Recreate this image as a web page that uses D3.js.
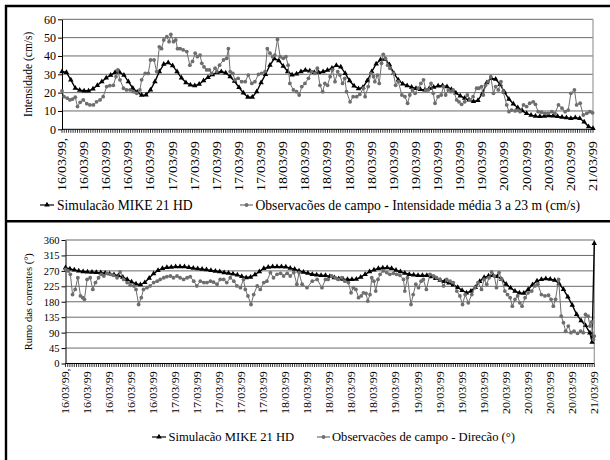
<!DOCTYPE html>
<html><head><meta charset="utf-8">
<script src="https://cdn.jsdelivr.net/npm/d3@7"></script>
<style>
body{margin:0;background:#fff}
svg{display:block}
text{font-family:"Liberation Serif","Times New Roman",serif;fill:#000}
</style>
</head><body>
<svg id="c" width="610" height="460"></svg>
<script>
// ---------- DATA ----------
const dateLabels = ["16/03/99,","16/03/99","16/03/99","16/03/99","16/03/99",
  "17/03/99","17/03/99","17/03/99","17/03/99","17/03/99",
  "18/03/99","18/03/99","18/03/99","18/03/99","18/03/99",
  "19/03/99","19/03/99","19/03/99","19/03/99","19/03/99",
  "20/03/99","20/03/99","20/03/99","20/03/99","21/03/99"];
const labelHours = [0,5,10,15,20,25,30,35,40,45,50,55,60,65,70,75,80,85,90,95,100,105,110,115,120];

// hours since 16/03/99 00:00 (hourly model output)
const modelHours = [0,1,2,3,4,5,6,7,8,9,10,11,12,13,14,15,16,17,18,19,20,21,22,23,24,25,26,27,28,29,
  30,31,32,33,34,35,36,37,38,39,40,41,42,43,44,45,46,47,48,49,50,51,52,53,54,55,56,57,58,59,
  60,61,62,63,64,65,66,67,68,69,70,71,72,73,74,75,76,77,78,79,80,81,82,83,84,85,86,87,88,89,
  90,91,92,93,94,95,96,97,98,99,100,101,102,103,104,105,106,107,108,109,110,111,112,113,114,115,116,117,118,119,120];

const modelSpeed = [31.5,31,27,22.5,21.3,21,21,22,24,26,
  28,29.5,31,31.2,29.5,26,22.4,20.3,18.6,18.8,
  21.5,26,31.5,35.5,36.3,34.7,31.5,28,25.5,24.2,
  23.8,24.6,26.5,28.3,29.8,31,31.5,30.8,28.7,26.2,
  22.8,19.8,17.5,17.5,20.5,25.5,30,35,38.5,37.5,
  34.5,31.5,29.7,30.2,31.5,32.3,31.8,31,31,31.4,
  32.2,33.4,34.8,34,30.5,26.5,23.7,22.2,22.8,26.5,
  31.5,35.7,38,38.3,35.3,30.5,27,24.7,23.8,23,
  22.3,21.8,21.5,22.3,23,23.6,23.8,23.2,21.8,19.8,
  18.2,17,16,15.2,15.8,19.5,25.5,27.8,27.3,24.5,
  20.3,16.5,13.8,11.8,10.2,8.6,7.7,7.2,7,7.2,
  7.5,7.3,7,6.6,6.3,6,6.3,6,4,1.5,
  0.5];

const obsSpeedHours = [0,0.45,1.2,1.8,2.4,3.0,3.5,4.1,4.8,5.6,6.3,7.1,7.8,8.6,9.3,10.1,10.8,11.6,12.2,12.6,
  13.1,13.9,14.6,15.4,16.1,16.9,17.6,18,18.8,19.5,20,20.8,21.4,22,22.5,23,23.7,24.2,24.6,25.2,
  25.7,26.1,26.7,27.4,28.2,28.9,29.5,30.1,30.6,31.2,31.6,32.1,32.7,33.3,33.8,34.6,35,35.6,36.5,37.2,
  37.6,38,38.6,39.1,39.8,40.6,41.4,42.1,42.9,43.6,44.4,45.1,45.9,46.4,47,47.6,48.1,48.7,49.3,50,
  50.6,51.1,51.5,52.3,53,53.6,54.2,54.9,55.7,56.4,57.2,57.7,58.3,58.9,59.4,
  60,60.6,61.1,61.7,62.3,62.8,63.4,63.9,64.3,65.1,65.8,66.6,67.3,68.1,68.5,69.2,69.8,70.4,70.7,71.3,
  71.7,72.2,72.6,73.1,73.6,74.1,74.9,75.4,76,76.8,77.5,78.1,78.6,79.2,79.8,80.5,81.1,81.7,82.2,82.8,
  83.4,83.9,84.3,85,85.7,86.2,86.7,87.3,87.9,88.4,89.2,89.7,90.3,91,91.6,92.2,92.9,93.7,94.2,94.8,
  95.2,95.7,96.3,96.9,97.5,98,98.6,99.2,99.7,100.5,101,101.6,102.4,103,103.5,104.3,105,105.7,106.5,107,
  107.6,108.4,109.2,109.9,110.7,111.4,112.2,113,113.7,114.4,115,115.8,116.3,117.1,117.8,118.6,119.3,119.9];
const obsSpeed = [21,17.8,17,16,16.5,17.5,12.4,14.7,16,14,13.3,13.3,15,16,17.8,23.3,23.8,24,28.7,32.4,
  27,22.4,21.5,21.5,20.5,19.6,21.5,27,30.5,30.5,37.8,37.8,31.5,45,44,48.7,50.5,47.8,51.8,47.8,
  48.7,44,44,43.3,42.4,35,37,41.5,39.6,40.5,36,34,32.4,32.4,30.5,33.3,31.5,35,37.8,38.7,
  44,31.5,30.5,27,27.8,26,26,29.6,25,26,30,30.5,31.5,44,41.5,39.6,40.5,49,39.6,38.7,
  39.6,35,25,21.5,20.5,18.7,23.3,25,27.8,31.5,30.5,33.3,24,20.5,25,
  24,28.7,32.4,26,31.5,29.6,25,27.8,20.5,15,17.8,17.8,19,22.4,17.8,23.3,30.5,28.7,26,29.6,
  25,36,40.9,38.7,35,33.3,30.5,24,26,18.7,17.8,14.2,18.7,21.5,19.6,22.4,25,27,21.5,21.5,
  25,19.6,14.2,17.8,18.7,23.3,18.7,21.5,20.5,21.5,16,15,13.6,15,18.7,16,17.8,22.4,22.4,23.3,
  18.7,24,26,28.7,19.6,23.3,21.5,26,20.5,13.3,9.6,10.5,10,10.5,9.6,13.3,12.4,14.2,15,13.6,
  9.6,9.3,8.7,8.7,9.6,8.7,13.3,11.5,9.6,10.5,19.6,21.5,13.3,14.2,7.8,8.7,9.6,9];

const modelDirHours = modelHours.slice(0,120).concat([119.5,120]);
const modelDir = [279,276,273,270,268,267,266.5,265.5,265,263.5,
  261.5,259,256,252,245,238,232,229.5,236,249,
  262,271,277,280,281,282,282,282,280,278,
  276.5,275,273.5,271.5,269.5,267.5,265,263,261,258,
  254,250.5,252,259,268,277,280.5,282,282,282,
  281.5,278,275,270,266,263,260,258.5,257,257,
  254,250.5,247,245.5,245,245,246,252,260,268,
  273,277,278.5,279,277,272,267.5,263,260,258,
  257,257,257,253,248,243,239,235,229,222,
  213,206,211,222,239,251,255.5,257,254,245,
  231,220,211,205.5,205,216,230,240.5,245,247,
  245.5,243,233,216,194,170,143,125,111,89.5,
  62,350];

const obsDirHours = [0,0.6,1.1,1.6,2.2,2.8,3.4,3.9,4.3,4.9,5.6,6.2,6.8,7.5,8.1,8.7,9.4,10.2,10.9,11.7,
  12.4,13.2,14,14.7,15.5,16,16.6,17.2,17.7,18.5,19.2,20,20.8,21.5,22.3,23,23.8,24.5,25.3,26,
  26.8,27.6,28.3,29.1,29.8,30.6,31.4,32.1,32.9,33.6,34.4,35.1,35.9,36.6,37.4,38.2,38.9,39.7,40.4,40.8,
  41.4,42.1,42.7,43.5,44.2,45,45.7,46.5,47.2,48,48.8,49.5,50.3,51,51.8,52.5,53,53.7,54.8,56,
  57.1,58.2,59,59.6,60.4,61.2,61.9,62.7,63.4,64.2,64.8,65.3,65.9,66.5,67.1,67.6,68.2,68.6,69.1,69.5,
  70,70.4,70.9,71.4,72.1,72.9,73.6,74.4,75.1,75.9,76.7,77,77.6,78.4,78.9,79.5,80.1,80.7,81.2,81.9,
  82.7,83.5,84.2,85,85.8,86.5,87.3,88,88.8,89.5,90.1,90.7,91.4,92.2,92.9,93.6,94.4,95,95.6,96.1,
  96.7,97.3,97.8,98.4,99,99.7,100.3,100.9,101.4,102,102.6,103.1,103.6,104.3,105,105.8,106.5,107.2,108,108.8,
  109.6,110.2,110.7,111.2,111.9,112.5,113,113.5,114.1,114.7,115.4,116.2,116.9,117.5,118,118.6,119,119.4,119.8,120];
const obsDir = [274,270,260,201,216,250,197,192,187,245,250,216,236,250,260,255,263,260,257,250,
  267,245,236,228,226,216,172,192,216,221,226,236,240,245,250,253,255,250,255,250,
  245,250,253,240,226,240,236,236,240,237,231,245,245,236,250,240,226,221,245,216,
  197,172,201,226,216,236,240,265,250,260,263,255,263,255,265,231,265,231,221,240,
  245,221,245,245,255,250,245,250,240,236,206,221,216,192,197,206,204,182,201,250,
  240,211,245,260,270,265,260,263,260,257,245,211,250,172,201,231,221,240,245,216,
  260,255,250,245,226,245,240,236,211,197,172,201,177,201,221,236,216,245,231,250,
  267,255,221,265,245,211,201,192,167,187,197,177,167,192,206,211,226,231,201,197,
  199,187,167,187,245,138,119,94,109,90,94,88,94,90,143,138,109,121,70,80];

// ---------- DRAW ----------
const svg = d3.select("#c");
const font = '"Liberation Serif","Times New Roman",serif';
const obsColor = "#6e6e6e";

// outer frame
const frame = svg.append("g").attr("stroke","#000").attr("stroke-width",2.4).attr("fill","none");
frame.append("line").attr("x1",5).attr("x2",610).attr("y1",6).attr("y2",6);
frame.append("line").attr("x1",6).attr("x2",6).attr("y1",5).attr("y2",460);
frame.append("line").attr("x1",5).attr("x2",610).attr("y1",221.3).attr("y2",221.3);

const halfHours = d3.range(0,240.5,1).map(d=>d/2);

function panel(o){
  const g = svg.append("g");
  const x = d3.scaleLinear().domain([0,120]).range([o.L,o.R]);
  const y = d3.scaleLinear().domain([0,o.yMax]).range([o.B,o.T]);

  // gridlines
  g.append("g").selectAll("line").data(o.yTicks.filter(v=>v>0)).join("line")
    .attr("x1",o.L).attr("x2",o.R).attr("y1",d=>y(d)).attr("y2",d=>y(d))
    .attr("stroke","#6a6a6a").attr("stroke-width",1);
  // plot area right border
  g.append("line").attr("x1",o.R).attr("x2",o.R).attr("y1",o.T).attr("y2",o.B)
    .attr("stroke","#9a9a9a").attr("stroke-width",1.2);

  // y axis
  const ya = d3.axisLeft(y).tickValues(o.yTicks).tickSize(4).tickSizeOuter(0).tickFormat(d3.format("d"));
  const yg = g.append("g").attr("transform",`translate(${o.L},0)`).call(ya);
  yg.select(".domain").attr("stroke","#000");
  yg.selectAll(".tick text").attr("font-family",font).attr("font-size",o.yFont).attr("x",-6).attr("fill","#000");

  // x axis line + dense category ticks
  g.append("line").attr("x1",o.L).attr("x2",o.R).attr("y1",o.B).attr("y2",o.B).attr("stroke","#000");
  g.append("g").selectAll("line").data(halfHours).join("line")
    .attr("x1",d=>x(d)).attr("x2",d=>x(d)).attr("y1",o.B).attr("y2",o.B+3.5)
    .attr("stroke","#000").attr("stroke-width",0.8);
  // date labels
  g.append("g").selectAll("text").data(labelHours).join("text")
    .attr("transform",d=>`translate(${x(d)},${o.labBottom}) rotate(-90) scale(1,${o.labSquash})`)
    .attr("dy","0.34em").attr("text-anchor","start")
    .attr("font-size",o.labFont).text((d,i)=>dateLabels[i]);

  // y title
  g.append("text").attr("transform",`translate(${o.titleX},${(o.T+o.B)/2}) rotate(-90)`)
    .attr("text-anchor","middle").attr("dy","0.34em").attr("font-size",o.titleFont).text(o.title);

  // model series
  const mPts = o.mH.map((h,i)=>[x(h),y(o.mV[i])]);
  g.append("path").attr("d",d3.line()(mPts)).attr("fill","none").attr("stroke","#000").attr("stroke-width",1.4);
  const tri = d3.symbol().type(d3.symbolTriangle).size(13);
  g.append("g").selectAll("path").data(mPts).join("path")
    .attr("transform",d=>`translate(${d[0]},${d[1]})`).attr("d",tri()).attr("fill","#000");

  // observed series
  const oPts = o.oH.map((h,i)=>[x(h),y(o.oV[i])]);
  g.append("path").attr("d",d3.line()(oPts)).attr("fill","none").attr("stroke",obsColor).attr("stroke-width",1);
  g.append("g").selectAll("circle").data(oPts).join("circle")
    .attr("cx",d=>d[0]).attr("cy",d=>d[1]).attr("r",1.9).attr("fill",obsColor);

  // legend
  const lg = g.append("g");
  lg.append("line").attr("x1",o.leg1[0]).attr("x2",o.leg1[1]).attr("y1",o.legY).attr("y2",o.legY).attr("stroke","#000").attr("stroke-width",1.2);
  lg.append("path").attr("transform",`translate(${(o.leg1[0]+o.leg1[1])/2},${o.legY})`).attr("d",tri()).attr("fill","#000");
  lg.append("text").attr("x",o.leg1[2]).attr("y",o.legY).attr("dy","0.34em").attr("font-size",o.legFont).text("Simulacão MIKE 21 HD");
  lg.append("line").attr("x1",o.leg2[0]).attr("x2",o.leg2[1]).attr("y1",o.legY).attr("y2",o.legY).attr("stroke",obsColor).attr("stroke-width",1.2);
  lg.append("circle").attr("cx",(o.leg2[0]+o.leg2[1])/2).attr("cy",o.legY).attr("r",1.9).attr("fill",obsColor);
  lg.append("text").attr("x",o.leg2[2]).attr("y",o.legY).attr("dy","0.34em").attr("font-size",o.legFont).text(o.leg2Text);
}

panel({L:62,R:593,T:19.3,B:129.3,yMax:60,yTicks:[0,10,20,30,40,50,60],yFont:12,
  labBottom:191,labFont:14,labSquash:0.82,titleX:28,titleFont:11.5,title:"Intensidade (cm/s)",
  mH:modelHours,mV:modelSpeed,oH:obsSpeedHours,oV:obsSpeed,
  legY:205,legFont:13.6,leg1:[40,54,57],leg2:[240,253,255.5],
  leg2Text:"Observacões de campo - Intensidade média 3 a 23 m (cm/s)"});

panel({L:65.5,R:594.3,T:240,B:363.5,yMax:360,yTicks:[0,45,90,135,180,225,270,315,360],yFont:10.5,
  labBottom:414,labFont:12,labSquash:0.85,titleX:28,titleFont:10.5,title:"Rumo das correntes (°)",
  mH:modelDirHours,mV:modelDir,oH:obsDirHours,oV:obsDir,
  legY:437,legFont:12.6,leg1:[152,166,168.5],leg2:[317,330,332],
  leg2Text:"Observacões de campo - Direcão (°)"});
</script>
</body></html>
